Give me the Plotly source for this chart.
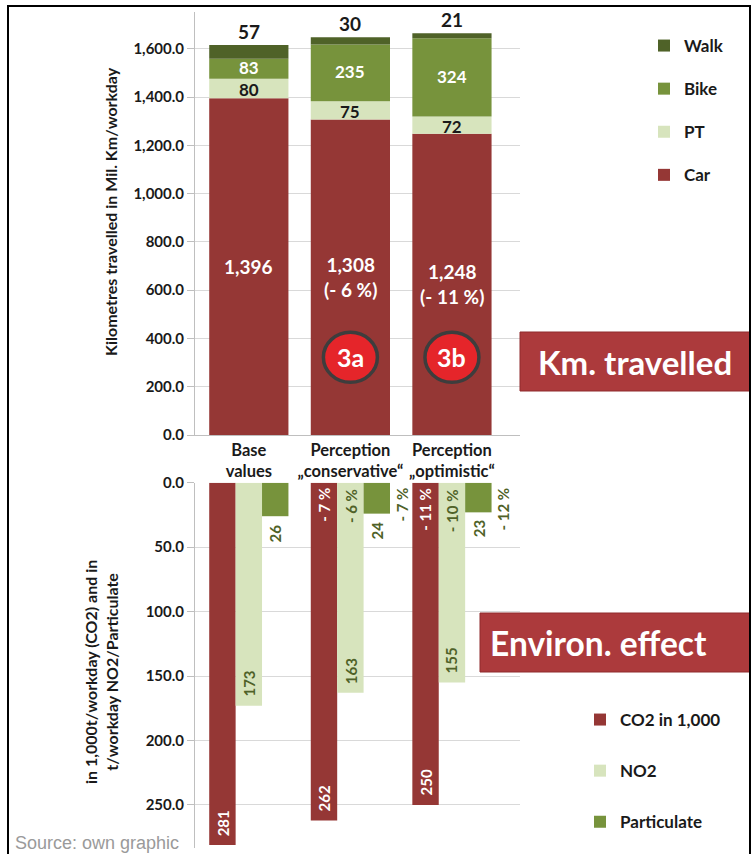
import plotly.graph_objects as go

# ---------------- data ----------------
scenarios = ["Base<br>values", "Perception<br>„conservative“", "Perception<br>„optimistic“"]
car = [1396, 1308, 1248]
pt = [80, 75, 72]
bike = [83, 235, 324]
walk = [57, 30, 21]
car_labels = ["1,396", "1,308<br>(- 6 %)", "1,248<br>(- 11 %)"]

co2 = [281, 262, 250]
no2 = [173, 163, 155]
particulate = [26, 24, 23]
co2_pct = ["", "- 7 %", "- 11 %"]
no2_pct = ["", "- 6 %", "- 10 %"]
part_pct = ["", "- 7 %", "- 12 %"]

top_ticks = [0, 200, 400, 600, 800, 1000, 1200, 1400, 1600]
bottom_ticks = [0, 50, 100, 150, 200, 250]

# ---------------- styles ----------------
W, H = 753, 854
CAR = "#953735"
PT = "#D7E4BD"
BIKE = "#77933C"
WALK = "#4F6228"
DARKGREEN = "#4F6228"
TXT = "#1a1a1a"
FONT = "Lato"
GRID = "#d9d9d9"
AXL = "#bfbfbf"
BARGAP = 0.22


def px_x(p):
    return p / W


def px_y(p):
    return 1 - p / H


xs = list(range(len(scenarios)))
xr = [-0.53, 2.67]
xdom = [px_x(195), px_x(520)]

fig = go.Figure()

# ---- top: stacked km travelled (explicit bases) ----
base_pt = [c for c in car]
base_bike = [c + p for c, p in zip(car, pt)]
base_walk = [c + p + b for c, p, b in zip(car, pt, bike)]

for rank, (name, vals, base, col) in enumerate([
    ("Car", car, [0, 0, 0], CAR),
    ("PT", pt, base_pt, PT),
    ("Bike", bike, base_bike, BIKE),
    ("Walk", walk, base_walk, WALK),
]):
    fig.add_trace(go.Bar(
        x=xs, y=vals, base=base, name=name, marker=dict(color=col, line=dict(width=0)),
        offsetgroup="km", xaxis="x", yaxis="y", legend="legend", legendgroup=name,
        legendrank=1000 - rank, hoverinfo="skip",
    ))

# ---- bottom: grouped environmental effect ----
for rank, (name, vals, col) in enumerate([
    ("CO2 in 1,000", co2, CAR),
    ("NO2", no2, PT),
    ("Particulate", particulate, BIKE),
]):
    fig.add_trace(go.Bar(
        x=xs, y=vals, name=name, marker=dict(color=col, line=dict(width=0)),
        xaxis="x2", yaxis="y2", legend="legend2", legendgroup=name,
        legendrank=100 + rank, hoverinfo="skip",
    ))

ann = []
bold = dict(family=FONT, weight="bold")

# top labels
for i in xs:
    ann.append(dict(x=i, y=car[i] / 2, xref="x", yref="y", text=car_labels[i], showarrow=False,
                    xanchor="center", yanchor="middle", font=dict(size=19, color="white", **bold)))
    ann.append(dict(x=i, y=car[i] + pt[i] / 2, xref="x", yref="y", text=str(pt[i]), showarrow=False,
                    xanchor="center", yanchor="middle", borderpad=0, yshift=-1,
                    font=dict(size=17, color=TXT, **bold)))
    ann.append(dict(x=i, y=base_bike[i] + bike[i] / 2, xref="x", yref="y", text=str(bike[i]),
                    showarrow=False, xanchor="center", yanchor="middle", borderpad=0, yshift=1,
                    font=dict(size=17, color="white", **bold)))
    ann.append(dict(x=i, y=base_walk[i] + walk[i], xref="x", yref="y", text=str(walk[i]), showarrow=False,
                    xanchor="center", yanchor="bottom", yshift=0, font=dict(size=19, color=TXT, **bold)))

# bottom labels
n = 3
w = (1 - BARGAP) / n
for i in xs:
    ann.append(dict(x=i - w, y=co2[i], xref="x2", yref="y2", text=str(co2[i]), showarrow=False,
                    textangle=-90, xanchor="center", yanchor="bottom", yshift=7,
                    font=dict(size=15, color="white", **bold)))
    ann.append(dict(x=i, y=no2[i], xref="x2", yref="y2", text=str(no2[i]), showarrow=False,
                    textangle=-90, xanchor="center", yanchor="bottom", yshift=7,
                    font=dict(size=15, color=DARKGREEN, **bold)))
    ann.append(dict(x=i + w, y=particulate[i], xref="x2", yref="y2", text=str(particulate[i]),
                    showarrow=False, textangle=-90, xanchor="center", yanchor="top", yshift=-6,
                    font=dict(size=15, color=DARKGREEN, **bold)))
    if co2_pct[i]:
        ann.append(dict(x=i - w, y=0, xref="x2", yref="y2", text=co2_pct[i], showarrow=False,
                        textangle=-90, xanchor="center", yanchor="top", yshift=-3,
                        font=dict(size=15, color="white", **bold)))
    if no2_pct[i]:
        ann.append(dict(x=i, y=0, xref="x2", yref="y2", text=no2_pct[i], showarrow=False,
                        textangle=-90, xanchor="center", yanchor="top", yshift=-4,
                        font=dict(size=15, color=DARKGREEN, **bold)))
    if part_pct[i]:
        ann.append(dict(x=i + w, y=0, xref="x2", yref="y2", text=part_pct[i], showarrow=False,
                        textangle=-90, xanchor="center", yanchor="top", yshift=-3, xshift=25,
                        font=dict(size=15, color=DARKGREEN, **bold)))

# axis titles
ann.append(dict(x=px_x(110), y=px_y(212), xref="paper", yref="paper", xanchor="center", yanchor="middle",
                text="Kilometres travelled in Mil. Km/workday", textangle=-90, showarrow=False,
                font=dict(size=16, color=TXT, **bold)))
ann.append(dict(x=px_x(101), y=px_y(672), xref="paper", yref="paper", xanchor="center", yanchor="middle",
                text="in 1,000t/workday (CO2) and in<br>t/workday NO2/Particulate", textangle=-90,
                showarrow=False, font=dict(size=16, color=TXT, **bold)))

# red boxes text
ann.append(dict(x=px_x(635), y=px_y(362), xref="paper", yref="paper", text="Km. travelled",
                xanchor="center", yanchor="middle", showarrow=False, font=dict(size=33, color="white", **bold)))
ann.append(dict(x=px_x(488), y=px_y(643), xref="paper", yref="paper", text="Environ. effect",
                xanchor="left", yanchor="middle", showarrow=False, font=dict(size=33.5, color="white", **bold)))

# 3a / 3b
CIRCLE_Y = 322
for i, lab in [(1, "3a"), (2, "3b")]:
    ann.append(dict(x=i, y=CIRCLE_Y, xref="x", yref="y", text=lab, showarrow=False,
                    xanchor="center", yanchor="middle", font=dict(size=25, color="white", **bold)))

# source
ann.append(dict(x=px_x(13), y=px_y(843), xref="paper", yref="paper", text="Source: own graphic",
                xanchor="left", yanchor="middle", showarrow=False,
                font=dict(size=18, color="#9a9a9a", family="Liberation Sans")))

shapes = [
    dict(type="rect", xref="paper", yref="paper", x0=px_x(520), x1=px_x(750), y0=px_y(391), y1=px_y(332),
         fillcolor="#AC3A3C", line=dict(color="#8f2b2c", width=1), layer="above"),
    dict(type="rect", xref="paper", yref="paper", x0=px_x(480), x1=px_x(750), y0=px_y(672), y1=px_y(613),
         fillcolor="#AC3A3C", line=dict(color="#8f2b2c", width=1), layer="above"),
    dict(type="rect", xref="paper", yref="paper", x0=px_x(8), x1=px_x(750), y0=-0.05, y1=px_y(6),
         fillcolor="rgba(0,0,0,0)", line=dict(color="black", width=2), layer="above"),
]
for i in (1, 2):
    shapes.append(dict(type="circle", xref="x", yref="y", xsizemode="pixel", ysizemode="pixel",
                       xanchor=i, yanchor=CIRCLE_Y, x0=-27, x1=27, y0=-25, y1=25,
                       fillcolor="#E5252A", line=dict(color="#3d3d3d", width=3.5), layer="above"))

ytickfont = dict(size=15, color=TXT, **bold)
xtickfont = dict(size=16.5, color=TXT, **bold)

fig.update_layout(
    width=W, height=H,
    margin=dict(l=0, r=0, t=0, b=0, pad=0),
    paper_bgcolor="white", plot_bgcolor="white",
    barmode="group", bargap=BARGAP, bargroupgap=0,
    font=dict(family=FONT, color=TXT),
    xaxis=dict(domain=xdom, range=xr, anchor="y", tickmode="array", tickvals=xs, ticktext=scenarios,
               tickfont=xtickfont, showgrid=False, zeroline=False, showline=True, linecolor=AXL,
               ticks="", automargin=False),
    yaxis=dict(domain=[px_y(435), px_y(12)], range=[0, 1753], anchor="x", tickmode="array",
               tickvals=top_ticks, tickformat=",.1f", tickfont=ytickfont, showgrid=True, gridcolor=GRID,
               zeroline=False, showline=True, linecolor=AXL, ticks="outside", ticklen=7, tickcolor=AXL,
               automargin=False),
    xaxis2=dict(domain=xdom, range=xr, anchor="y2", showticklabels=False, showgrid=False,
                zeroline=False, showline=False, ticks="", automargin=False),
    yaxis2=dict(domain=[px_y(848), px_y(482.7)], range=[283.4, 0], anchor="x2", tickmode="array",
                tickvals=bottom_ticks, tickformat=".1f", tickfont=ytickfont, showgrid=True, gridcolor=GRID,
                zeroline=False, showline=True, linecolor=AXL, ticks="outside", ticklen=7, tickcolor=AXL,
                automargin=False),
    legend=dict(x=px_x(644), y=px_y(28), xanchor="left", yanchor="top", traceorder="grouped",
                tracegroupgap=18, bgcolor="rgba(0,0,0,0)", font=dict(size=17, color=TXT, **bold)),
    legend2=dict(x=px_x(580), y=px_y(702), xanchor="left", yanchor="top", traceorder="grouped",
                 tracegroupgap=26, bgcolor="rgba(0,0,0,0)", font=dict(size=17, color=TXT, **bold)),
    annotations=ann,
    shapes=shapes,
    showlegend=True,
)

fig.write_html("out.html")
